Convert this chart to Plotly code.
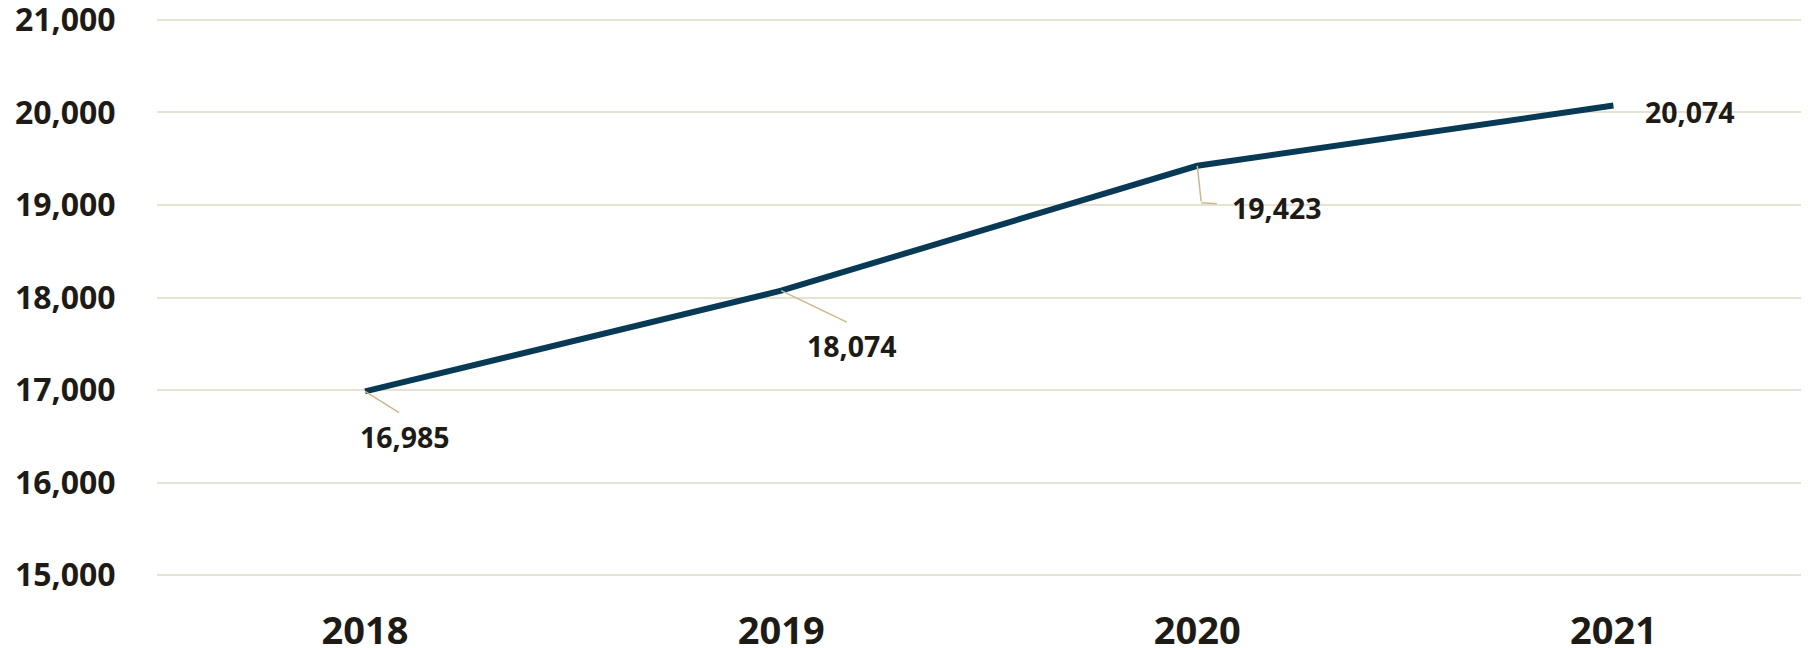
import plotly.graph_objects as go

years = ["2018", "2019", "2020", "2021"]
values = [16985, 18074, 19423, 20074]
value_labels = ["16,985", "18,074", "19,423", "20,074"]
y_ticks = [15000, 16000, 17000, 18000, 19000, 20000, 21000]
y_tick_labels = ["15,000", "16,000", "17,000", "18,000", "19,000", "20,000", "21,000"]

LINE = "#083a55"
GRID = "#e7e3d4"
TEXT = "#1e1b16"
LEADER = "#c8b98c"
FONT = "Open Sans"

fig = go.Figure()
fig.add_trace(go.Scatter(
    x=years, y=values, mode="lines",
    line=dict(color=LINE, width=6),
    hoverinfo="skip", showlegend=False,
))

lab_font = dict(family=FONT, size=28.5, color=TEXT, weight="bold")
arrow = dict(showarrow=True, arrowhead=0, arrowwidth=1.5, arrowcolor=LEADER)

# 2018 / 2019: straight leader lines, label hanging below the leader end
fig.add_annotation(x=0, y=values[0], text=value_labels[0], font=lab_font,
                   ax=40, ay=25, xanchor="center", yanchor="top",
                   startstandoff=7, **arrow)
fig.add_annotation(x=1, y=values[1], text=value_labels[1], font=lab_font,
                   ax=71, ay=34, xanchor="center", yanchor="top",
                   startstandoff=6, **arrow)
# 2020: bent leader (vertical part, then horizontal part with the label)
fig.add_annotation(x=2, y=values[2], text="", ax=4, ay=37, **arrow)
fig.add_annotation(x=2, y=values[2], text=value_labels[2], font=lab_font,
                   xshift=4, yshift=-37, ax=76, ay=5, startstandoff=14, **arrow)
# 2021: label to the right, no leader
fig.add_annotation(x=3, y=values[3], text=value_labels[3], font=lab_font,
                   showarrow=False, xshift=77, yshift=-6)

fig.update_layout(
    width=1801, height=640,
    margin=dict(l=149, r=0, t=10, b=71),
    plot_bgcolor="white", paper_bgcolor="white",
    font=dict(family=FONT, color=TEXT),
    xaxis=dict(
        type="category", range=[-0.5, 3.47], showgrid=False, zeroline=False,
        showline=False, ticks="outside", ticklen=20, tickcolor="rgba(0,0,0,0)",
        ticklabeloverflow="allow", automargin=False,
        tickfont=dict(family=FONT, size=38, color=TEXT, weight="bold"),
    ),
    yaxis=dict(
        range=[14980, 21020], tickvals=y_ticks, ticktext=y_tick_labels,
        showgrid=True, gridcolor=GRID, gridwidth=2, zeroline=False,
        showline=False, ticks="outside", ticklen=34, tickcolor="rgba(0,0,0,0)",
        ticklabeloverflow="allow", automargin=False,
        tickfont=dict(family=FONT, size=32, color=TEXT, weight="bold"),
    ),
)

fig.write_html("out.html")
